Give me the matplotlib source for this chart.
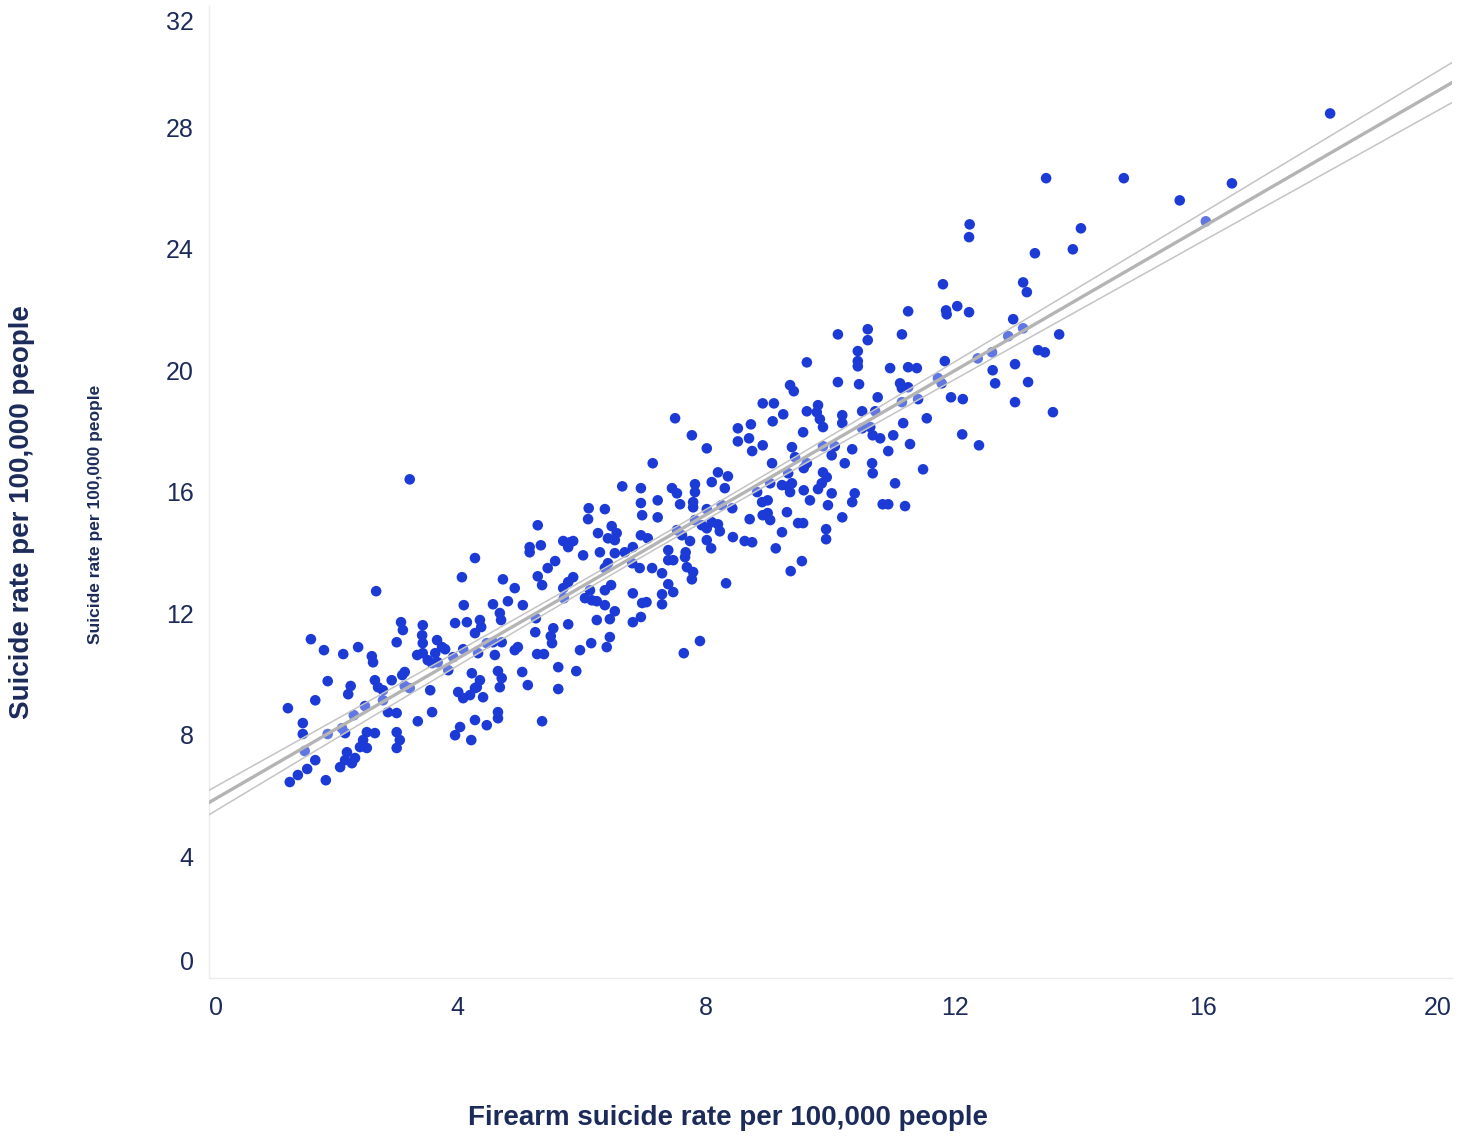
import numpy as np
import matplotlib
matplotlib.use('Agg')
import matplotlib.pyplot as plt
from matplotlib.transforms import ScaledTranslation

# Firearm suicide rate (x) vs total suicide rate (y), per 100,000 people
firearm_rate = [
    2.69, 3.09, 3.12, 3.02, 1.64, 1.85, 2.16, 2.40, 2.62, 2.64, 1.91, 2.28, 2.24, 2.67, 2.72, 2.94, 3.11,
    2.80, 1.71, 1.27, 2.51, 2.80, 2.88, 3.02, 2.33, 1.51, 1.51, 1.91, 2.14, 2.19, 2.54, 2.67, 3.02, 3.07,
    2.48, 2.43, 2.54, 3.02, 1.54, 2.22, 1.71, 2.19, 2.35, 2.11, 2.30, 1.58, 1.43, 1.30, 1.88,
    3.23, 4.28, 4.07, 4.73, 4.92, 4.10, 4.57, 4.81, 5.05, 4.68, 4.70, 3.44, 3.96, 4.15, 4.36, 4.38, 4.28,
    3.43, 3.44, 3.67, 3.75, 3.80, 3.35, 3.44, 3.52, 3.64, 3.59, 3.68, 3.85, 3.93, 4.09, 4.33, 4.47, 4.57,
    4.71, 4.60, 4.92, 4.97, 4.23, 4.65, 4.71, 4.36, 4.31, 4.68, 5.04, 3.15, 3.15, 3.23, 3.56, 4.01, 4.09,
    4.20, 4.28, 4.41, 3.59, 3.36, 4.28, 4.47, 4.65, 4.65, 4.04, 3.96, 4.22,
    6.65, 6.95, 6.95, 6.97, 6.11, 6.37, 6.10, 5.29, 6.48, 6.56, 6.26, 6.42, 6.53, 6.95, 5.16, 5.16, 5.34,
    5.70, 5.81, 5.86, 5.78, 6.02, 6.29, 6.53, 6.69, 6.82, 6.81, 6.93, 5.57, 5.45, 6.42, 6.37, 5.29, 5.36,
    5.86, 5.78, 5.70, 6.47, 6.37, 6.13, 6.05, 6.16, 6.24, 5.71, 6.82, 6.97, 6.37, 6.53, 5.26, 6.24, 6.45,
    6.82, 6.95, 5.78, 5.54, 5.25, 5.50, 5.52, 6.15, 6.45, 6.40, 5.97, 5.28, 5.39, 5.62, 5.91, 5.13, 5.62,
    5.36,
    7.50, 7.77, 8.01, 8.51, 8.72, 8.51, 8.69, 8.74, 8.91, 7.14, 8.19, 8.35, 8.09, 8.30, 7.82, 7.82, 7.45,
    7.53, 7.58, 7.79, 7.79, 7.22, 7.22, 8.01, 8.25, 8.42, 8.82, 8.90, 8.91, 8.70, 7.82, 7.93, 8.09, 8.19,
    8.01, 8.22, 7.53, 7.61, 7.06, 7.74, 8.01, 8.08, 8.43, 8.62, 8.74, 7.39, 7.67, 7.66, 7.39, 7.47, 7.13,
    7.29, 7.69, 7.79, 7.77, 8.32, 7.39, 7.47, 7.29, 7.04, 7.29, 7.90, 7.64,
    10.12, 10.60, 10.60, 10.44, 10.44, 10.44, 9.62, 10.12, 10.46, 9.35, 9.41, 8.91, 9.09, 9.24, 9.07,
    9.62, 9.80, 9.78, 9.83, 9.88, 10.19, 10.19, 10.51, 10.76, 10.72, 10.51, 10.64, 10.68, 10.80, 9.56,
    9.38, 9.43, 9.88, 10.07, 10.02, 10.35, 9.06, 9.62, 10.23, 10.67, 10.68, 9.57, 9.88, 9.94, 9.32, 9.03,
    9.22, 9.32, 9.38, 9.35, 9.86, 9.80, 9.57, 10.02, 10.39, 10.35, 8.99, 9.67, 9.96, 10.84, 8.99, 9.03,
    9.30, 10.19, 9.48, 9.56, 9.93, 9.93, 9.22, 9.12, 9.54, 9.36,
    12.24, 12.23, 11.81, 11.25, 11.86, 11.87, 12.04, 12.23, 11.15, 11.84, 10.96, 11.25, 11.39, 12.37,
    12.60, 12.61, 12.65, 11.73, 11.79, 11.12, 11.15, 11.25, 11.15, 11.41, 11.94, 12.13, 11.55, 11.17,
    11.01, 11.28, 12.12, 12.39, 10.93, 11.49, 11.04, 10.93, 11.20,
    13.47, 14.03, 13.29, 13.90, 13.10, 13.16, 12.94, 13.10, 12.86, 13.68, 13.34, 13.45, 12.97, 13.18,
    12.97, 13.58,
    18.04, 14.72, 15.62, 16.46, 16.04,
]
suicide_rate = [
    12.73, 11.71, 11.45, 11.05, 11.15, 10.79, 10.66, 10.89, 10.59, 10.39, 9.77, 9.61, 9.34, 9.80, 9.57,
    9.80, 9.97, 9.47, 9.14, 8.88, 8.95, 9.14, 8.75, 8.72, 8.65, 8.39, 8.03, 8.03, 8.22, 8.06, 8.09, 8.06,
    8.09, 7.83, 7.83, 7.60, 7.57, 7.57, 7.47, 7.43, 7.17, 7.17, 7.24, 6.94, 7.07, 6.88, 6.68, 6.45, 6.51,
    16.41, 13.82, 13.19, 13.12, 12.83, 12.27, 12.30, 12.40, 12.27, 12.01, 11.78, 11.61, 11.68, 11.71,
    11.78, 11.55, 11.35, 11.28, 11.02, 11.12, 10.89, 10.82, 10.63, 10.69, 10.46, 10.69, 10.36, 10.39,
    10.13, 10.56, 10.82, 10.69, 11.02, 11.05, 11.05, 10.63, 10.79, 10.89, 10.03, 10.10, 9.87, 9.80, 9.57,
    9.57, 10.07, 10.07, 9.61, 9.54, 9.47, 9.41, 9.21, 9.31, 9.54, 9.24, 8.75, 8.45, 8.49, 8.32, 8.55, 8.75,
    8.26, 7.99, 7.83,
    16.18, 16.12, 15.63, 15.23, 15.46, 15.43, 15.10, 14.90, 14.87, 14.64, 14.64, 14.47, 14.41, 14.57,
    14.18, 14.01, 14.24, 14.38, 14.34, 14.38, 14.18, 13.91, 14.01, 13.98, 14.01, 14.18, 13.65, 13.49,
    13.72, 13.49, 13.65, 13.49, 13.22, 12.93, 13.19, 13.03, 12.83, 12.93, 12.76, 12.76, 12.50, 12.43,
    12.40, 12.50, 12.66, 12.34, 12.27, 12.07, 11.84, 11.78, 11.81, 11.71, 11.88, 11.64, 11.51, 11.38,
    11.25, 11.02, 11.02, 11.22, 10.89, 10.79, 10.66, 10.66, 10.23, 10.10, 9.64, 9.51, 8.45,
    18.42, 17.86, 17.43, 18.09, 18.22, 17.66, 17.76, 17.34, 17.53, 16.94, 16.64, 16.51, 16.32, 16.12,
    16.25, 15.99, 16.12, 15.95, 15.59, 15.66, 15.49, 15.72, 15.16, 15.43, 15.56, 15.46, 15.99, 15.66,
    15.23, 15.10, 15.07, 14.90, 15.00, 14.93, 14.80, 14.70, 14.74, 14.57, 14.47, 14.38, 14.41, 14.14,
    14.51, 14.38, 14.34, 14.08, 14.01, 13.85, 13.75, 13.75, 13.49, 13.32, 13.52, 13.36, 13.12, 12.99,
    12.96, 12.70, 12.63, 12.37, 12.30, 11.09, 10.69,
    21.18, 21.35, 20.99, 20.63, 20.30, 20.13, 20.26, 19.61, 19.54, 19.51, 19.31, 18.91, 18.91, 18.55,
    18.32, 18.65, 18.85, 18.62, 18.39, 18.13, 18.52, 18.26, 18.65, 19.11, 18.65, 18.09, 18.13, 17.86,
    17.76, 17.96, 17.47, 17.14, 17.50, 17.50, 17.20, 17.40, 16.94, 16.94, 16.94, 16.94, 16.61, 16.78,
    16.64, 16.48, 16.61, 16.28, 16.22, 16.18, 16.28, 15.99, 16.28, 16.09, 16.05, 15.95, 15.95, 15.66,
    15.72, 15.72, 15.56, 15.59, 15.30, 15.07, 15.33, 15.16, 14.97, 14.97, 14.77, 14.44, 14.67, 14.14,
    13.72, 13.39,
    24.80, 24.38, 22.83, 21.94, 21.97, 21.84, 22.11, 21.91, 21.18, 20.30, 20.07, 20.10, 20.07, 20.39,
    20.59, 20.00, 19.57, 19.74, 19.57, 19.57, 19.41, 19.44, 18.95, 19.05, 19.11, 19.05, 18.42, 18.26,
    17.86, 17.57, 17.89, 17.53, 17.34, 16.74, 16.28, 15.59, 15.53,
    26.32, 24.67, 23.85, 23.98, 22.89, 22.57, 21.68, 21.38, 21.12, 21.18, 20.66, 20.59, 20.20, 19.61,
    18.95, 18.62,
    28.45, 26.32, 25.59, 26.15, 24.90,
]

x_ticks = [0, 4, 8, 12, 16, 20]
y_ticks = [0, 4, 8, 12, 16, 20, 24, 28, 32]

x_title = "Firearm suicide rate per 100,000 people"
y_title = "Suicide rate per 100,000 people"

plt.rcParams['font.family'] = ['Liberation Sans', 'DejaVu Sans']
navy = '#1c2b5a'
dot_blue = '#1c3bd6'

x = np.array(firearm_rate)
y = np.array(suicide_rate)

# linear fit with 95% confidence band for the mean
slope, intercept = np.polyfit(x, y, 1)
n = len(x)
resid = y - (slope * x + intercept)
s = np.sqrt(np.sum(resid ** 2) / (n - 2))
sxx = np.sum((x - x.mean()) ** 2)
xf = np.linspace(0, 20, 200)
yf = slope * xf + intercept
half = 1.97 * s * np.sqrt(1.0 / n + (xf - x.mean()) ** 2 / sxx)

fig = plt.figure(figsize=(14.79, 11.37), dpi=100)
ax = fig.add_axes([0.1413, 0.1398, 0.8404, 0.8553])

ax.scatter(x, y, s=58, color=dot_blue, edgecolors='none', zorder=2)
ax.fill_between(xf, yf - half, yf + half, color='white', alpha=0.3, lw=0, zorder=3)
ax.plot(xf, yf, color='#b4b4b4', lw=2.4, zorder=4)
ax.plot(xf, yf + half, color='#c4c4c4', lw=1.1, zorder=4)
ax.plot(xf, yf - half, color='#c4c4c4', lw=1.1, zorder=4)

ax.set_xlim(0, 20)
ax.set_ylim(0, 32)
ax.set_xticks(x_ticks)
ax.set_yticks(y_ticks)
ax.set_xticklabels([str(v) for v in x_ticks])
ax.set_yticklabels([str(v) for v in y_ticks])
ax.tick_params(length=0, labelsize=18, labelcolor=navy)
ax.tick_params(axis='x', pad=13)
ax.tick_params(axis='y', pad=11)

# edge labels are kept inside the axis range
xl = ax.get_xticklabels()
xl[0].set_ha('left')
xl[-1].set_ha('right')
yl = ax.get_yticklabels()
yl[0].set_va('bottom')
yl[0].set_transform(yl[0].get_transform() + ScaledTranslation(0, 0.03, fig.dpi_scale_trans))
yl[-1].set_va('top')
yl[-1].set_transform(yl[-1].get_transform() + ScaledTranslation(0, -0.05, fig.dpi_scale_trans))

for side in ['top', 'right']:
    ax.spines[side].set_visible(False)
for side in ['left', 'bottom']:
    ax.spines[side].set_color('#ececec')
    ax.spines[side].set_linewidth(1)

fig.text(0.4925, 0.0167, x_title, ha='center', va='center', fontsize=20,
         fontweight='bold', color=navy)
fig.text(0.0149, 0.5497, y_title, ha='center', va='center', rotation=90,
         fontsize=20, fontweight='bold', color=navy)
fig.text(0.0649, 0.5475, y_title, ha='center', va='center', rotation=90,
         fontsize=12.5, fontweight='bold', color=navy)

fig.savefig('out.png', dpi=100)
